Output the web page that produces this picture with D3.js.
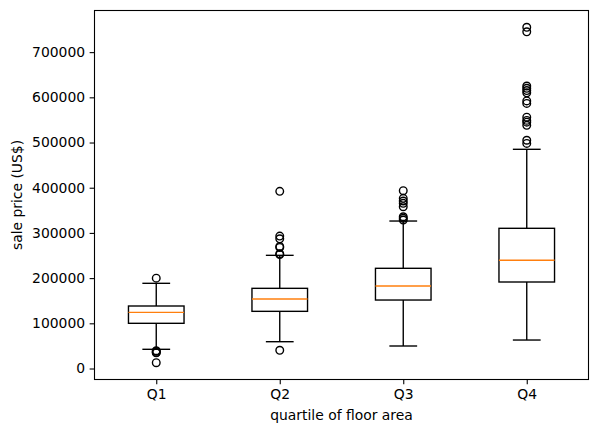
<!DOCTYPE html>
<html>
<head>
<meta charset="utf-8">
<script src="https://cdn.jsdelivr.net/npm/d3@7/dist/d3.min.js"></script>
<style>
  html, body { margin: 0; padding: 0; background: #fff; }
  svg { display: block; }
  text { font-family: "DejaVu Sans", sans-serif; fill: #000; }
</style>
</head>
<body>
<svg id="chart" width="599" height="433"></svg>
<script>
// ---- data ----
const categories = ["Q1", "Q2", "Q3", "Q4"];
const boxQ1      = [100000, 126500, 151500, 191400];
const boxMedian  = [124300, 153800, 182500, 239400];
const boxQ3      = [138300, 177400, 221700, 310200];
const whiskerLow = [42500, 59300, 49800, 63000];
const whiskerHigh= [188500, 250400, 326300, 485000];
const outliers = [
  [199900, 39300, 37900, 35311, 34900, 12789],
  [392000, 293000, 287000, 270000, 268000, 254000, 252000, 40300],
  [393400, 376500, 370600, 365500, 358000, 335800, 332300, 328500],
  [755000, 745000, 625000, 620000, 615000, 610000, 592000, 586500,
   556000, 549000, 545000, 538000, 505000, 498000]
];
const yTicks = [0, 100000, 200000, 300000, 400000, 500000, 600000, 700000];
const yDomain = [-24321, 792110];

// ---- layout ----
const svg = d3.select("#chart");
const L = 94.5, R = 588.5, T = 10.5, B = 379.5;
const x = d3.scaleLinear().domain([0.5, 4.5]).range([L, R]);
const y = d3.scaleLinear().domain(yDomain).range([B, T]);
const boxW = x(0.45) - x(0);
const capW = boxW / 2;
const lw = 1.39;

const g = svg.append("g");

categories.forEach((c, i) => {
  const cx = x(i + 1);
  // whiskers
  g.append("line").attr("x1", cx).attr("x2", cx)
    .attr("y1", y(boxQ1[i])).attr("y2", y(whiskerLow[i]))
    .attr("stroke", "#000").attr("stroke-width", lw);
  g.append("line").attr("x1", cx).attr("x2", cx)
    .attr("y1", y(boxQ3[i])).attr("y2", y(whiskerHigh[i]))
    .attr("stroke", "#000").attr("stroke-width", lw);
  // caps
  [whiskerLow[i], whiskerHigh[i]].forEach(v => {
    g.append("line").attr("x1", cx - capW / 2).attr("x2", cx + capW / 2)
      .attr("y1", y(v)).attr("y2", y(v))
      .attr("stroke", "#000").attr("stroke-width", lw);
  });
  // box
  g.append("rect").attr("x", cx - boxW / 2).attr("width", boxW)
    .attr("y", y(boxQ3[i])).attr("height", y(boxQ1[i]) - y(boxQ3[i]))
    .attr("fill", "none").attr("stroke", "#000").attr("stroke-width", lw);
  // median
  g.append("line").attr("x1", cx - boxW / 2).attr("x2", cx + boxW / 2)
    .attr("y1", y(boxMedian[i])).attr("y2", y(boxMedian[i]))
    .attr("stroke", "#ff7f0e").attr("stroke-width", lw);
  // fliers
  g.selectAll(null).data(outliers[i]).enter().append("circle")
    .attr("cx", cx).attr("cy", d => y(d)).attr("r", 3.8)
    .attr("fill", "none").attr("stroke", "#000").attr("stroke-width", lw);
});

// ---- axes ----
const yAxis = d3.axisLeft(y).tickValues(yTicks).tickFormat(d3.format("d"))
  .tickSize(4.86).tickPadding(4.5);
const ya = svg.append("g").attr("transform", `translate(${L},0)`).call(yAxis);
const xAxis = d3.axisBottom(x).tickValues([1, 2, 3, 4])
  .tickFormat((d, i) => categories[i]).tickSize(4.86).tickPadding(4.5);
const xa = svg.append("g").attr("transform", `translate(0,${B})`).call(xAxis);
[ya, xa].forEach(a => {
  a.select(".domain").remove();
  a.selectAll(".tick line").attr("stroke", "#000").attr("stroke-width", 1.1);
  a.selectAll(".tick text").attr("font-size", "13.9px")
    .attr("font-family", "DejaVu Sans, sans-serif").attr("fill", "#000");
});

// frame
svg.append("rect").attr("x", L).attr("y", T).attr("width", R - L).attr("height", B - T)
  .attr("fill", "none").attr("stroke", "#000").attr("stroke-width", 1.1);

// labels
svg.append("text").attr("x", (L + R) / 2).attr("y", 420)
  .attr("text-anchor", "middle").attr("font-size", "13.9px")
  .text("quartile of floor area");
svg.append("text")
  .attr("transform", `translate(22,${(T + B) / 2}) rotate(-90)`)
  .attr("text-anchor", "middle").attr("font-size", "13.9px")
  .text("sale price (US$)");
</script>
</body>
</html>
